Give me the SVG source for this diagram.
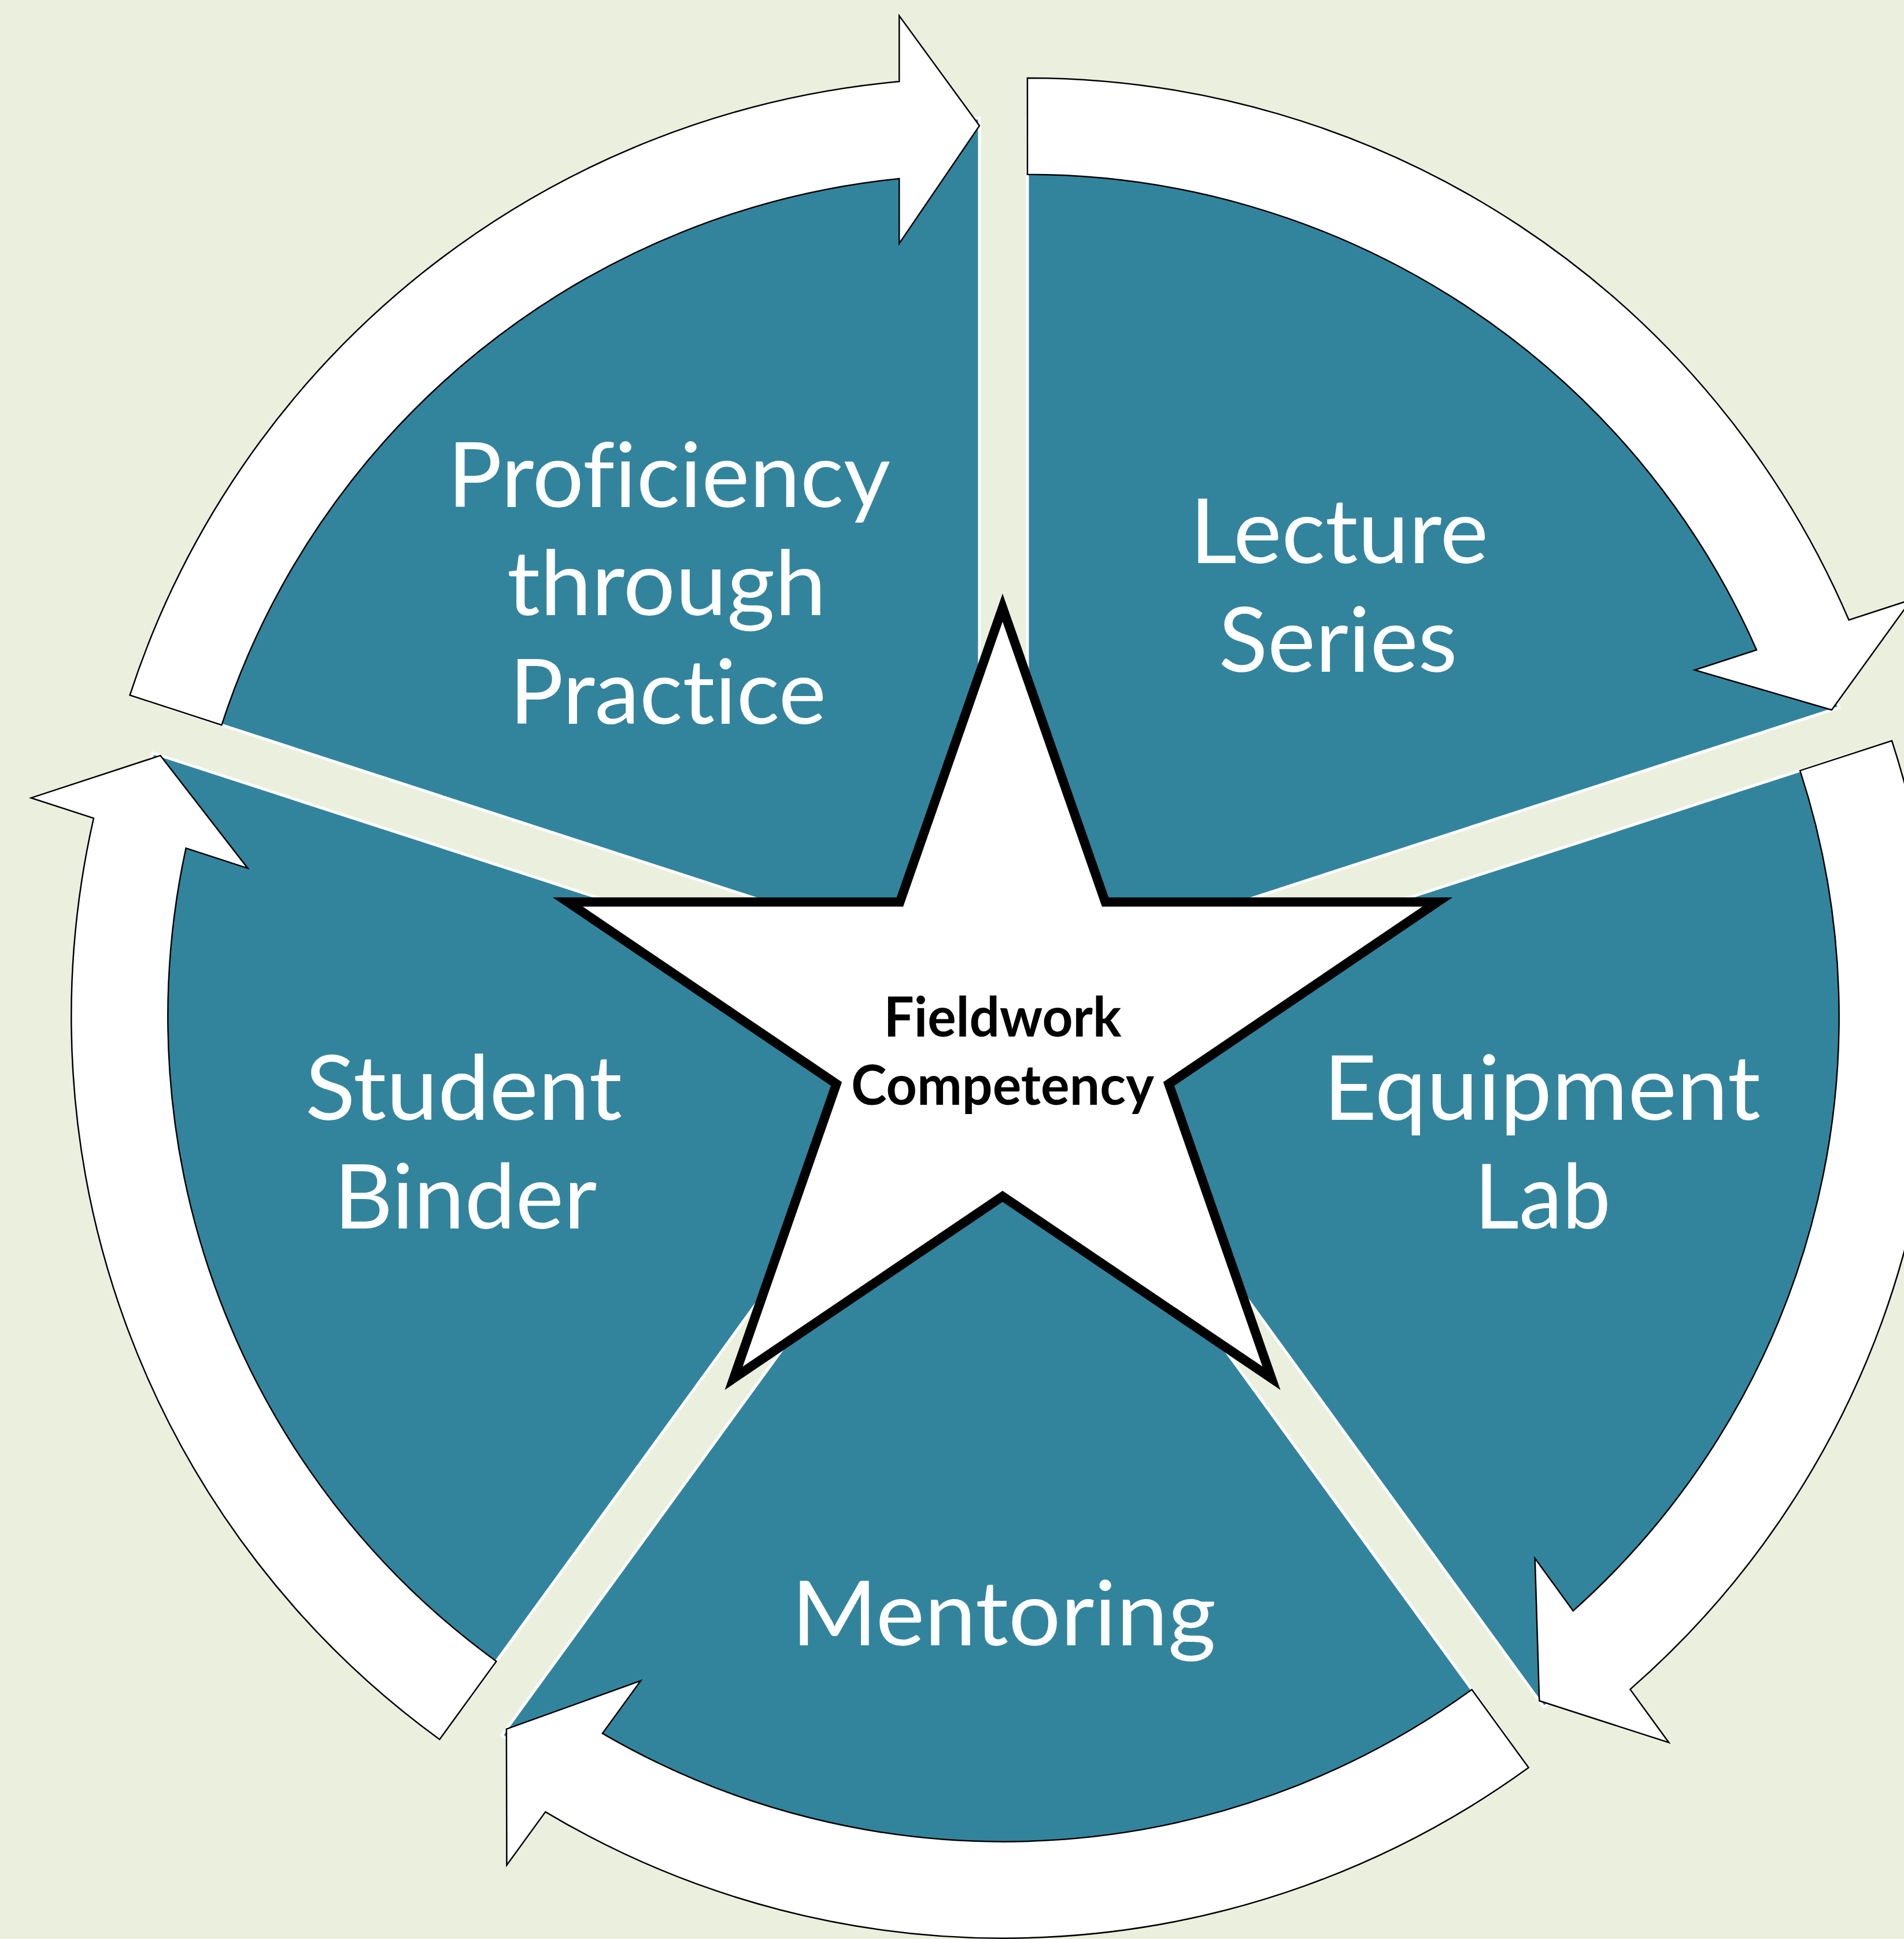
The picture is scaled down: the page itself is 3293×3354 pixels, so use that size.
<svg xmlns="http://www.w3.org/2000/svg" width="3293" height="3354" viewBox="0 0 3293 3354">
<defs>
<style>
.wedge{fill:#32849D;stroke:#FFFFFF;stroke-width:5;stroke-linejoin:miter}
.arrow{fill:#FFFFFF;stroke:#000000;stroke-width:2.5;stroke-linejoin:miter}
.lbl{font-family:Lato,"Open Sans","Liberation Sans",sans-serif;font-size:156px;fill:#FFFFFF;text-anchor:middle;font-variant-ligatures:none;font-feature-settings:"liga" 0,"dlig" 0,"clig" 0}
.ctr{font-family:Lato,"Liberation Sans",sans-serif;font-weight:bold;font-size:95px;fill:#000000;text-anchor:middle;font-variant-ligatures:none;font-feature-settings:"liga" 0,"dlig" 0}
.star{fill:#FFFFFF;stroke:#000000;stroke-width:16;stroke-linejoin:miter;stroke-miterlimit:10}
</style>
<path id="wedgeShape" d="M0,0 L-1403.8,-456.1 A1476,1476 0 0 1 0,-1476 Z"/>
<path id="arrowShape" d="M0,-1462.5 L-138.8,-1652.6 L-138.8,-1538.8 A1545,1545 0 0 0 -1469.4,-477.4 L-1310.6,-425.8 A1378,1378 0 0 1 -138.8,-1371.0 L-138.8,-1258.6 Z"/>
</defs>
<rect x="0" y="0" width="3293" height="3354" fill="#EBEFDE"/>
<g id="node-proficiency">
<use href="#wedgeShape" class="wedge" transform="translate(1735.5,1737) rotate(0) translate(-41.5,-57.1)"/>
<text class="lbl" x="1157" y="877" textLength="766" lengthAdjust="spacingAndGlyphs">Proficiency</text>
<text class="lbl" x="1153" y="1064" textLength="552" lengthAdjust="spacingAndGlyphs">through</text>
<text class="lbl" x="1155" y="1252" textLength="548" lengthAdjust="spacingAndGlyphs">Practice</text>
</g>
<g id="node-lecture">
<use href="#wedgeShape" class="wedge" transform="translate(1735.5,1737) rotate(72) translate(-41.5,-57.1)"/>
<text class="lbl" x="2316" y="974" textLength="516" lengthAdjust="spacingAndGlyphs">Lecture</text>
<text class="lbl" x="2314" y="1162" textLength="413" lengthAdjust="spacingAndGlyphs">Series</text>
</g>
<g id="node-equipment">
<use href="#wedgeShape" class="wedge" transform="translate(1735.5,1737) rotate(144) translate(-41.5,-57.1)"/>
<text class="lbl" x="2667" y="1937" textLength="756" lengthAdjust="spacingAndGlyphs">Equipment</text>
<text class="lbl" x="2668" y="2125" textLength="236" lengthAdjust="spacingAndGlyphs">Lab</text>
</g>
<g id="node-mentoring">
<use href="#wedgeShape" class="wedge" transform="translate(1735.5,1737) rotate(216) translate(-41.5,-57.1)"/>
<text class="lbl" x="1736" y="2846" textLength="734" lengthAdjust="spacingAndGlyphs">Mentoring</text>
</g>
<g id="node-student">
<use href="#wedgeShape" class="wedge" transform="translate(1735.5,1737) rotate(288) translate(-41.5,-57.1)"/>
<text class="lbl" x="802" y="1937" textLength="548" lengthAdjust="spacingAndGlyphs">Student</text>
<text class="lbl" x="805" y="2125" textLength="455" lengthAdjust="spacingAndGlyphs">Binder</text>
</g>
<g id="connectors">
<use href="#arrowShape" class="arrow" transform="translate(1735.5,1737) rotate(0) translate(-41.5,-57.1)"/>
<use href="#arrowShape" class="arrow" transform="translate(1735.5,1737) rotate(72) translate(-41.5,-57.1)"/>
<use href="#arrowShape" class="arrow" transform="translate(1735.5,1737) rotate(144) translate(-41.5,-57.1)"/>
<use href="#arrowShape" class="arrow" transform="translate(1735.5,1737) rotate(216) translate(-41.5,-57.1)"/>
<use href="#arrowShape" class="arrow" transform="translate(1735.5,1737) rotate(288) translate(-41.5,-57.1)"/>
</g>
<g id="node-center">
<path class="star" d="M981.8,1560.2 L1556.4,1560.2 L1734,1051 L1911.6,1560.2 L2486.2,1560.2 L2021.4,1874.9 L2199,2384 L1734,2069.4 L1269,2384 L1446.6,1874.9 Z"/>
<text class="ctr" x="1734" y="1793" textLength="411" lengthAdjust="spacingAndGlyphs">Fieldwork</text>
<text class="ctr" x="1734" y="1911" textLength="524" lengthAdjust="spacingAndGlyphs">Competency</text>
</g>
</svg>
